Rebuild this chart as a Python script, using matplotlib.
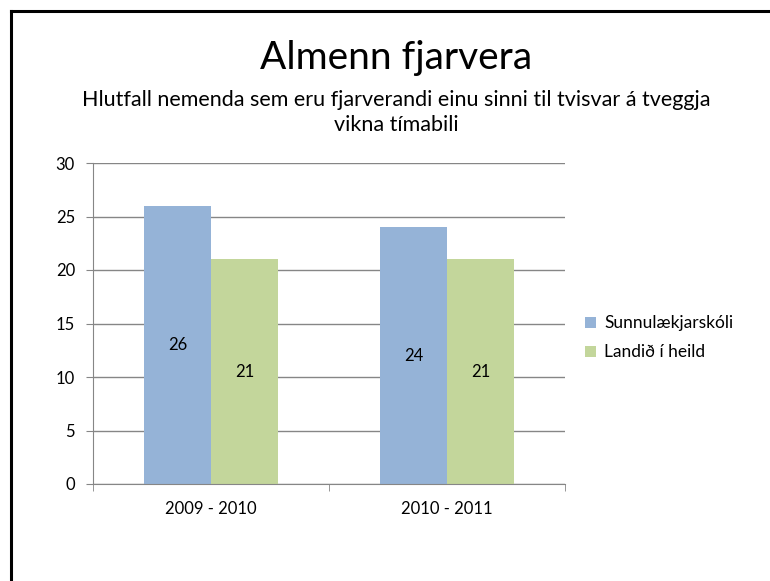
import matplotlib.pyplot as plt
import numpy as np

plt.rcParams['font.family'] = ['Lato', 'DejaVu Sans']

periods = ['2009 - 2010', '2010 - 2011']
series_names = ['Sunnulækjarskóli', 'Landið í heild']
sunnulaek = [26, 24]
landid = [21, 21]
colors = ['#95b3d7', '#c3d69b']

fig = plt.figure(figsize=(7.7, 5.81), dpi=100)

# outer frame (only top and left visible in the reference)
fig.add_artist(plt.Line2D([11 / 770, 11 / 770], [0, 1 - 11 / 581], color='black', lw=2.2))
fig.add_artist(plt.Line2D([11 / 770, 1], [1 - 11 / 581, 1 - 11 / 581], color='black', lw=2.2))

fig.text(396 / 770, 1 - 58 / 581, 'Almenn fjarvera', ha='center', va='center', fontsize=28)
fig.text(396 / 770, 1 - 100 / 581, 'Hlutfall nemenda sem eru fjarverandi einu sinni til tvisvar á tveggja',
         ha='center', va='center', fontsize=15.5)
fig.text(396 / 770, 1 - 125 / 581, 'vikna tímabili', ha='center', va='center', fontsize=15.5)

ax = fig.add_axes([93 / 770, 1 - 484 / 581, (565 - 93) / 770, (484 - 163) / 581])

x = np.arange(len(periods))
w = 0.284
b1 = ax.bar(x - w / 2, sunnulaek, w, color=colors[0], label=series_names[0])
b2 = ax.bar(x + w / 2, landid, w, color=colors[1], label=series_names[1])
for bars in (b1, b2):
    for r in bars:
        ax.text(r.get_x() + r.get_width() / 2, r.get_height() / 2, f'{r.get_height():g}',
                ha='center', va='center', fontsize=12)

ax.set_xlim(-0.5, 1.5)
ax.set_ylim(0, 30)
ax.set_yticks(range(0, 31, 5))
ax.set_xticks(x)
ax.set_xticklabels(periods)
ax.set_xticks([-0.5, 0.5, 1.5], minor=True)
ax.tick_params(axis='x', which='major', length=0, pad=12, labelsize=12)
ax.tick_params(axis='x', which='minor', length=5, color='#868686')
ax.tick_params(axis='y', length=5, color='#868686', labelsize=12, pad=8)
ax.yaxis.grid(True, color='#868686', lw=1)
ax.set_axisbelow(True)
for s in ['top', 'right']:
    ax.spines[s].set_visible(False)
for s in ['left', 'bottom']:
    ax.spines[s].set_color('#868686')

ax.legend(loc='center left', bbox_to_anchor=(1.01, 0.455), frameon=False, fontsize=12.5,
          handlelength=0.6, handleheight=0.6, handletextpad=0.5, labelspacing=0.75)

fig.savefig('out.png', dpi=100)
